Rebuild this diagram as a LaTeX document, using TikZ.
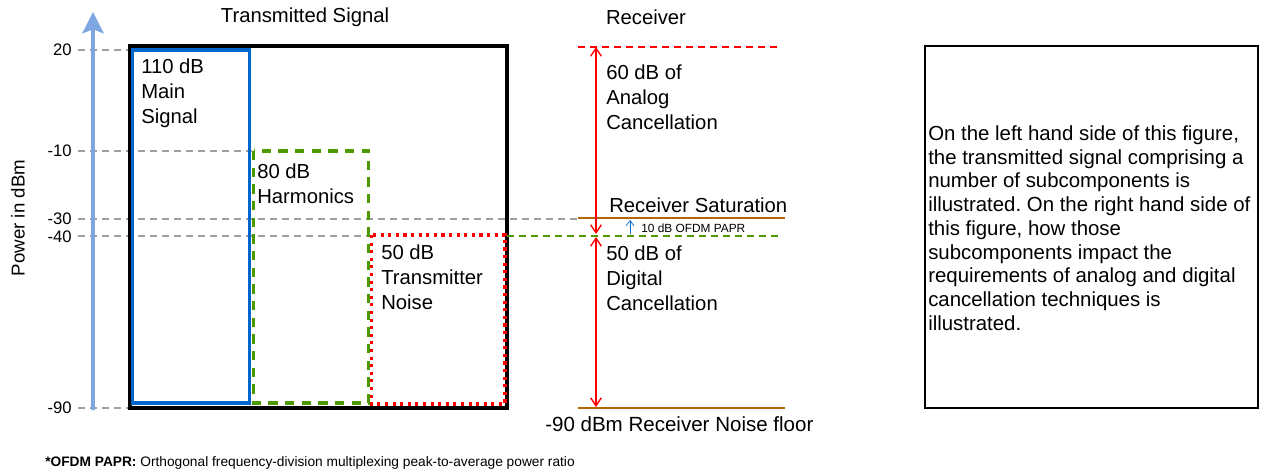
\documentclass[tikz,border=0pt]{standalone}
\usepackage{fontspec}
\setmainfont{Liberation Sans}
\usetikzlibrary{arrows.meta}
\frenchspacing
\definecolor{axisblue}{HTML}{7EA6E0}
\definecolor{sigblue}{HTML}{0066CC}
\definecolor{harmgreen}{HTML}{4D9900}
\definecolor{satbrown}{HTML}{B46504}
\tikzset{
  lbl/.style={align=left, anchor=north west, inner sep=0pt, font=\fontsize{15.2}{18.5}\selectfont},
  ticklbl/.style={anchor=east, inner sep=0pt, font=\fontsize{12.5}{15}\selectfont},
  guide/.style={gray!75, line width=0.8pt, dash pattern=on 5pt off 4pt},
  cancel/.style={red, line width=1pt, {Straight Barb[length=6pt,width=8pt]}-{Straight Barb[length=6pt,width=8pt]}}
}
\begin{document}
\begin{tikzpicture}[x=0.75pt, y=-0.75pt]
  \useasboundingbox (0,0) rectangle (1265,472);

  % grid lines for the power levels
  \draw[guide] (78,50) -- (130,50);
  \draw[guide] (78,151) -- (252,151);
  \draw[guide] (78,219) -- (578,219);
  \draw[guide] (78,236) -- (372,236);
  \draw[guide] (78,408) -- (130,408);

  % tick labels
  \node[ticklbl] (t20) at (72,50) {20};
  \node[ticklbl] (t10) at (72,151) {-10};
  \node[ticklbl] (t30) at (72,219) {-30};
  \node[ticklbl] (t40) at (72,237) {-40};
  \node[ticklbl] (t90) at (72,408) {-90};

  % power axis
  \draw[axisblue, line width=2.4pt, -{Stealth[length=16pt,width=16pt,inset=3pt]}] (93,410) -- (93,12);
  \node[rotate=90, inner sep=0pt, font=\fontsize{14}{16}\selectfont] (ylbl) at (18,218) {Power in dBm};

  % transmitted signal
  \node[inner sep=0pt, font=\fontsize{15.2}{18}\selectfont] (txtitle) at (305,17) {Transmitted Signal};
  \draw[line width=2.4pt] (130,46) rectangle (507,408);
  \draw[sigblue, line width=2.3pt] (132.5,50) rectangle (249.5,403);
  \draw[harmgreen, line width=2.3pt, dash pattern=on 7pt off 5.5pt] (253.5,151) rectangle (368.5,403);
  \draw[red, line width=2.3pt, dash pattern=on 2.3pt off 3.4pt] (371.5,235) rectangle (505,404);

  \node[lbl] (mainsig) at (141,59) {110 dB\\Main\\Signal};
  \node[lbl] (harm) at (257,164) {80 dB\\Harmonics};
  \node[lbl] (txnoise) at (381,245) {50 dB\\Transmitter\\Noise};

  % receiver
  \node[inner sep=0pt, font=\fontsize{15.2}{18}\selectfont] (rxtitle) at (646,17) {Receiver};
  \draw[red, line width=0.8pt, dash pattern=on 5pt off 4pt] (578,47) -- (780,47);
  \draw[satbrown, line width=1.2pt] (578,218) -- (785,218);
  \draw[harmgreen, line width=0.8pt, dash pattern=on 5pt off 4pt] (507,236) -- (780,236);
  \draw[satbrown, line width=1.2pt] (578,408) -- (785,408);

  \coordinate (anaTop) at (596,47);
  \coordinate (anaBot) at (596,234);
  \coordinate (digTop) at (596,237);
  \coordinate (digBot) at (596,407);
  \draw[cancel] (anaBot) -- (anaTop);
  \draw[cancel] (digTop) -- (digBot);

  \coordinate (paprBot) at (630,234);
  \coordinate (paprTop) at (630,220);
  \draw[sigblue, line width=0.5pt, -{Straight Barb[length=4pt,width=6pt]}] (paprBot) -- (paprTop);
  \node[anchor=west, inner sep=0pt, font=\fontsize{8.9}{10}\selectfont] (papr) at (641,228) {10 dB OFDM PAPR};

  \node[anchor=west, inner sep=0pt, font=\fontsize{15.2}{18}\selectfont] (sat) at (609,205) {Receiver Saturation};
  \node[lbl] (analog) at (606,65) {60 dB of\\Analog\\Cancellation};
  \node[lbl] (digital) at (606,246) {50 dB of\\Digital\\Cancellation};
  \node[anchor=west, inner sep=0pt, font=\fontsize{15.4}{18}\selectfont] (floor) at (545,424) {-90 dBm Receiver Noise floor};

  % description box
  \draw[line width=0.8pt] (925,46) rectangle (1258,408);
  \node[anchor=west, align=left, inner sep=0pt, font=\fontsize{15.3}{17.8}\selectfont] (notes) at (928,228)
    {On the left hand side of this figure,\\the transmitted signal comprising a\\number of subcomponents is\\illustrated. On the right hand side of\\this figure, how those\\subcomponents impact the\\requirements of analog and digital\\cancellation techniques is\\illustrated.};

  % footnote
  \node[anchor=west, inner sep=0pt, font=\fontsize{10.3}{12}\selectfont] (foot) at (45,463)
    {\textbf{*OFDM PAPR:} Orthogonal frequency-division multiplexing peak-to-average power ratio};
\end{tikzpicture}
\end{document}
